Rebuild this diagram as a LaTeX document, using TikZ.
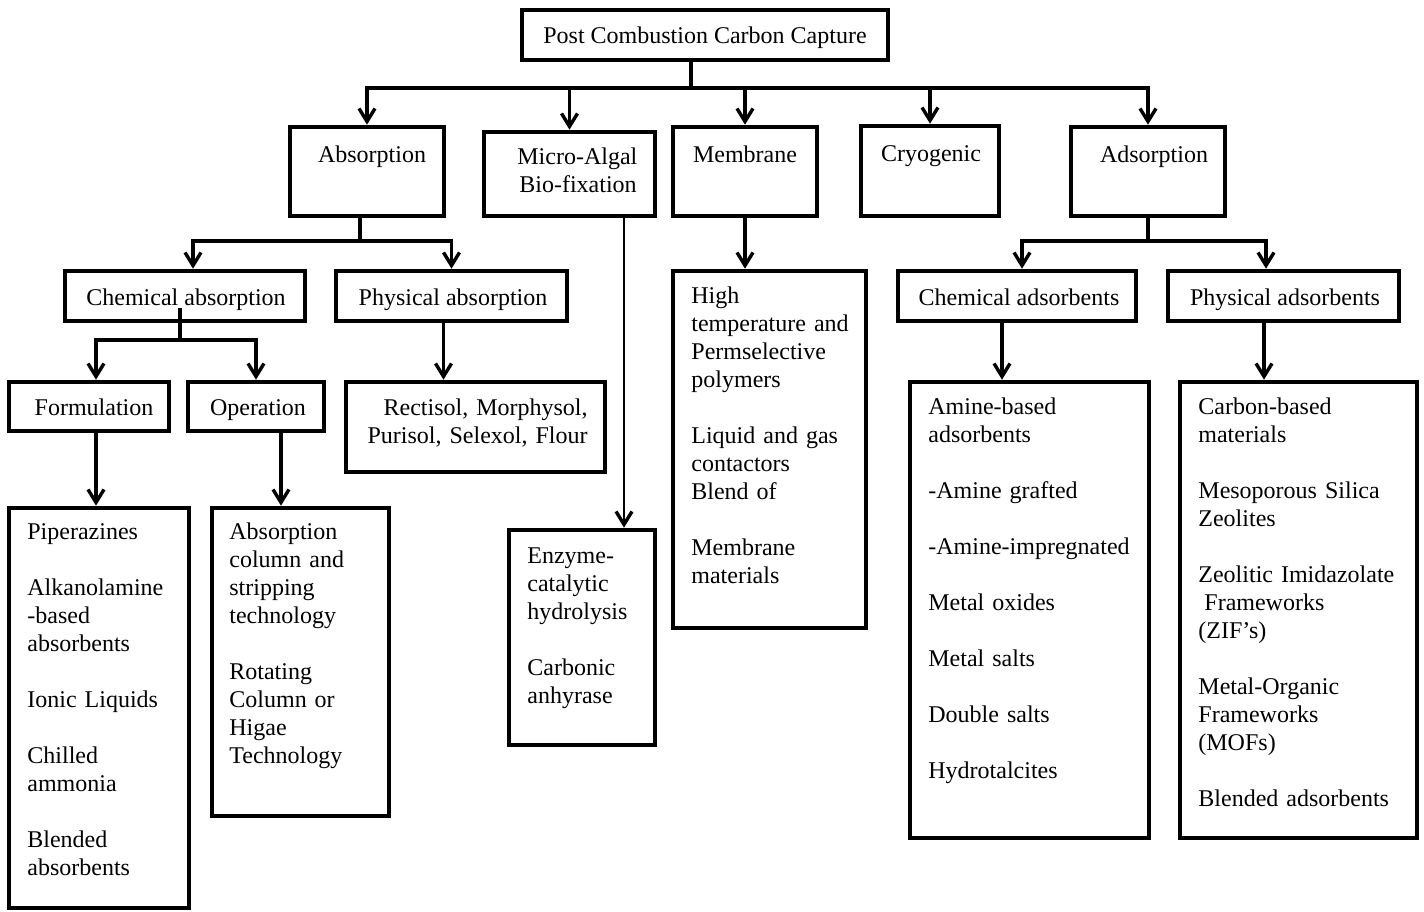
\documentclass[tikz,border=0pt]{standalone}
\usepackage{fontspec}
\setmainfont{Liberation Serif}
\usetikzlibrary{arrows.meta,fit}

\tikzset{
  box/.style={draw, line width=2.3pt, inner sep=0pt, fit={#1}},
  head/.style={inner sep=0pt, anchor=base},
  items/.style={inner sep=0pt, anchor=base west, align=left, text width=#1},
  conn/.style={line width=1.8pt},
  arr/.style={conn, -{Straight Barb[length=6.5pt,width=8pt,line width=1.7pt]}},
}

\begin{document}
\begin{tikzpicture}[x=0.5pt, y=-0.5pt, font=\fontsize{12}{14}\selectfont]
\useasboundingbox (0,0) rectangle (1424,911);

% boxes
\node[box={(522,10) (888,60)}] (top) {};
\node[box={(290,127) (444,216)}] (absorp) {};
\node[box={(484,132) (655,216)}] (algae) {};
\node[box={(673,127) (817,216)}] (membr) {};
\node[box={(861,126) (999,216)}] (cryo) {};
\node[box={(1071,127) (1225,216)}] (adsorp) {};
\node[box={(65,271) (305,321)}] (chemabs) {};
\node[box={(336,271) (567,321)}] (physabs) {};
\node[box={(9,382) (169,431)}] (formul) {};
\node[box={(188,382) (324,431)}] (operat) {};
\node[box={(346,382) (605,472)}] (solv) {};
\node[box={(9,508) (189,908)}] (formlist) {};
\node[box={(212,508) (389,816)}] (oplist) {};
\node[box={(509,530) (655,745)}] (enzlist) {};
\node[box={(673,271) (866,628)}] (memlist) {};
\node[box={(898,271) (1136,321)}] (chemads) {};
\node[box={(1168,271) (1399,321)}] (physads) {};
\node[box={(910,382) (1149,838)}] (chemlist) {};
\node[box={(1180,382) (1417,838)}] (physlist) {};

% headings
\node[head] (toptxt) at (705,43) {Post Combustion Carbon Capture};
\node[head] (absorptxt) at (372,162) {Absorption};
\node[items=70pt] (algaetxt) at (517,164) {Micro-Algal\\ \hspace*{1pt}Bio-fixation};
\node[head] (membrtxt) at (745,162) {Membrane};
\node[head] (cryotxt) at (931,161) {Cryogenic};
\node[head] (adsorptxt) at (1154,162) {Adsorption};
\node[head] (chemabstxt) at (186,305) {Chemical absorption};
\node[head] (physabstxt) at (453,305) {Physical absorption};
\node[head] (formultxt) at (94,415) {Formulation};
\node[head] (operattxt) at (258,415) {Operation};
\node[head] (chemadstxt) at (1019,305) {Chemical adsorbents};
\node[head] (physadstxt) at (1285,305) {Physical adsorbents};
\node[inner sep=0pt, anchor=base east, align=right, text width=120pt] (solvtxt) at (588,415)
  {Rectisol, Morphysol,\\ Purisol, Selexol, Flour};

% lists
\node[items=80pt] (formtxt) at (27,539) {Piperazines\\[14pt]
  Alkanolamine\\ -based\\ absorbents\\[14pt]
  Ionic Liquids\\[14pt]
  Chilled\\ ammonia\\[14pt]
  Blended\\ absorbents};
\node[items=80pt] (optxt) at (229,539) {Absorption\\ column and\\ stripping\\ technology\\[14pt]
  Rotating\\ Column or\\ Higae\\ Technology};
\node[items=70pt] (enztxt) at (527,563) {Enzyme-\\ catalytic\\ hydrolysis\\[14pt]
  Carbonic\\ anhyrase};
\node[items=90pt] (memtxt) at (691,303) {High\\ temperature and\\ Permselective\\ polymers\\[14pt]
  Liquid and gas\\ contactors\\ Blend of\\[14pt]
  Membrane\\ materials};
\node[items=120pt] (chemtxt) at (928,414) {Amine-based\\ adsorbents\\[14pt]
  -Amine grafted\\[14pt]
  -Amine-impregnated\\[14pt]
  Metal oxides\\[14pt]
  Metal salts\\[14pt]
  Double salts\\[14pt]
  Hydrotalcites};
\node[items=120pt] (phystxt) at (1198,414) {Carbon-based\\ materials\\[14pt]
  Mesoporous Silica\\ Zeolites\\[14pt]
  Zeolitic Imidazolate\\ \hspace*{3pt}Frameworks\\ (ZIF’s)\\[14pt]
  Metal-Organic\\ Frameworks\\ (MOFs)\\[14pt]
  Blended adsorbents};

% connectors
\coordinate (trunk) at (691,88);
\coordinate (absj) at (360,241);
\coordinate (chemtop) at (180,308);
\coordinate (chemj) at (180,340);
\coordinate (adsj) at (1148,241);

\draw[conn] (top.south -| trunk) -- (trunk);
\foreach \n in {absorp,algae,membr,cryo,adsorp}
  \draw[arr] (trunk) -| (\n.north);

\draw[conn] (absorp.south -| absj) -- (absj);
\draw[arr] (absj) -| ([xshift=4pt]chemabs.north);
\draw[arr] (absj) -| (physabs.north);

\draw[conn] (chemtop) -- (chemj);
\draw[arr] (chemj) -| ([xshift=3.5pt]formul.north);
\draw[arr] (chemj) -| (operat.north);

\draw[arr] ([xshift=-4pt]physabs.south) -- ([xshift=-4pt]physabs.south |- solv.north);
\draw[arr] ([xshift=3.5pt]formul.south) -- ([xshift=3.5pt]formul.south |- formlist.north);
\draw[arr] ([xshift=12.5pt]operat.south) -- ([xshift=12.5pt]operat.south |- oplist.north);
\draw[arr, line width=1.2pt] ([xshift=27.25pt]algae.south) -- ([xshift=27.25pt]algae.south |- enzlist.north);
\draw[arr] (membr.south) -- (membr.south |- memlist.north);

\draw[conn] (adsorp.south) -- (adsj);
\draw[arr] (adsj) -| ([xshift=2.5pt]chemads.north);
\draw[arr] (adsj) -| ([xshift=-8.75pt]physads.north);
\draw[arr] ([xshift=-7.5pt]chemads.south) -- ([xshift=-7.5pt]chemads.south |- chemlist.north);
\draw[arr] ([xshift=-9.75pt]physads.south) -- ([xshift=-9.75pt]physads.south |- physlist.north);
\end{tikzpicture}
\end{document}
